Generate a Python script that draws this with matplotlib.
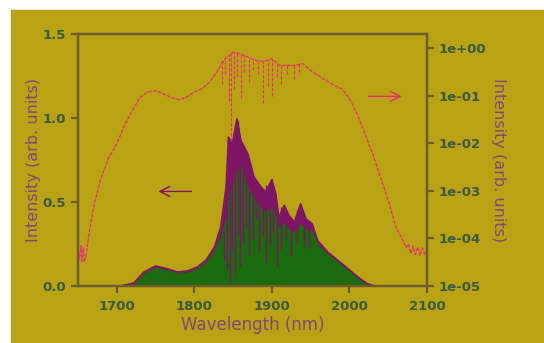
import numpy as np
import matplotlib
matplotlib.use('Agg')
import matplotlib.pyplot as plt
from matplotlib.patches import Rectangle

# 線形スペクトル (左軸)
wl_lin = [1705, 1722, 1735, 1750, 1765, 1778, 1791, 1804, 1815, 1826, 1834, 1841,
          1844, 1849, 1855, 1860, 1869, 1877, 1886, 1892, 1900, 1905, 1909, 1916,
          1922, 1929, 1937, 1944, 1952, 1959, 1972, 1985, 1998, 2011, 2023, 2032]
env_lin = [0.0, 0.018, 0.083, 0.119, 0.103, 0.083, 0.089, 0.113, 0.153, 0.232, 0.35, 0.59,
           0.886, 0.846, 0.995, 0.866, 0.787, 0.648, 0.589, 0.559, 0.634, 0.549, 0.41, 0.48,
           0.42, 0.38, 0.489, 0.40, 0.37, 0.27, 0.202, 0.153, 0.103, 0.053, 0.014, 0.0]
green_lin = [0.0, 0.012, 0.076, 0.112, 0.097, 0.077, 0.083, 0.106, 0.145, 0.215, 0.30, 0.42,
             0.55, 0.60, 0.70, 0.72, 0.60, 0.52, 0.47, 0.44, 0.48, 0.42, 0.35, 0.38,
             0.34, 0.32, 0.37, 0.34, 0.33, 0.25, 0.192, 0.145, 0.096, 0.047, 0.009, 0.0]

# 吸収線 (線形)
dip_wl = [1838, 1842, 1846, 1849, 1852, 1856, 1859, 1863, 1867, 1871, 1875, 1880,
          1884, 1888, 1893, 1897, 1902, 1907, 1912, 1918, 1925, 1933, 1941, 1948]
dip_lo = [0.15, 0.10, 0.02, 0.22, 0.08, 0.30, 0.12, 0.25, 0.35, 0.18, 0.28, 0.40,
          0.20, 0.30, 0.14, 0.25, 0.32, 0.12, 0.22, 0.28, 0.18, 0.26, 0.24, 0.22]
dip_hi = [0.33, 0.55, 0.80, 0.84, 0.92, 0.98, 0.88, 0.84, 0.78, 0.70, 0.64, 0.59,
          0.58, 0.56, 0.60, 0.62, 0.55, 0.42, 0.47, 0.43, 0.40, 0.45, 0.40, 0.36]

# 対数スペクトル (右軸)
wl_log = [1650, 1652, 1654, 1655, 1657, 1658, 1660, 1665, 1670, 1680, 1690, 1700, 1710, 1720,
          1730, 1740, 1750, 1760, 1770, 1780, 1790, 1800, 1810, 1820, 1830, 1840,
          1850, 1860, 1870, 1880, 1890, 1900, 1910, 1920, 1930, 1940, 1950, 1960,
          1970, 1980, 1990, 2000, 2010, 2020, 2030, 2040, 2050, 2060, 2070, 2073,
          2076, 2079, 2082, 2085, 2088, 2091, 2094, 2097, 2100]
exp_log = [-4.10, -4.45, -4.15, -4.48, -4.20, -4.50, -4.38, -3.83, -3.34, -2.71, -2.29, -2.01, -1.62, -1.31,
           -1.03, -0.92, -0.89, -0.96, -1.03, -1.08, -1.03, -0.92, -0.85, -0.71, -0.47, -0.22,
           -0.08, -0.12, -0.19, -0.26, -0.27, -0.22, -0.36, -0.36, -0.36, -0.32, -0.47, -0.57,
           -0.68, -0.78, -0.85, -1.06, -1.38, -1.80, -2.22, -2.71, -3.20, -3.76, -4.08, -4.20,
           -4.12, -4.32, -4.16, -4.34, -4.18, -4.36, -4.20, -4.34, -4.24]

dip_log_wl = [1836, 1840, 1845, 1847, 1851, 1855, 1860, 1864, 1870, 1876, 1882, 1888,
              1895, 1900, 1906, 1912, 1920, 1928, 1935]
dip_log_lo = [-0.75, -0.55, -1.10, -1.95, -0.85, -0.60, -1.05, -0.50, -0.70, -0.45, -0.55, -1.15,
              -0.80, -1.00, -0.60, -0.75, -0.55, -0.65, -0.50]
dip_log_hi = [-0.22, -0.18, -0.12, -0.08, -0.08, -0.09, -0.12, -0.14, -0.19, -0.22, -0.26, -0.27,
              -0.25, -0.22, -0.30, -0.36, -0.36, -0.36, -0.32]

x_ticks = [1700, 1800, 1900, 2000, 2100]
x_labels = ['1700', '1800', '1900', '2000', '2100']
y_ticks = [0.0, 0.5, 1.0, 1.5]
y_labels = ['0.0', '0.5', '1.0', '1.5']
r_exps = [0, -1, -2, -3, -4, -5]
r_labels = ['1e+00', '1e-01', '1e-02', '1e-03', '1e-04', '1e-05']

bg = '#b9a214'
frame = '#6b5c2a'
tick_c = '#3c5a3c'
lab_c = '#7d4a72'
purple = '#7e1464'
green = '#1b6a0e'
red = '#e8306c'

fig = plt.figure(figsize=(5.44, 3.43), dpi=100)
fig.patches.append(Rectangle((11 / 544, 0), 1 - 11 / 544, 1 - 10 / 343,
                             transform=fig.transFigure, color=bg, zorder=-10))

ax = fig.add_axes([78 / 544, 1 - 286 / 343, 349 / 544, 252 / 343])
ax.set_facecolor(bg)
ax.patch.set_alpha(0)

# 線形スペクトル
ax.fill_between(wl_lin, 0, env_lin, color=purple, lw=0)
ax.fill_between(wl_lin, 0, green_lin, color=green, lw=0)
ax.plot(wl_lin, env_lin, color=purple, lw=1.2)
ax.vlines(dip_wl, dip_lo, dip_hi, color=purple, lw=1.0)
ax.annotate('', xy=(1750, 0.563), xytext=(1800, 0.563),
            arrowprops=dict(arrowstyle='->', color=purple, lw=1.0, mutation_scale=18))

ax.set_xlim(1650, 2100)
ax.set_ylim(0, 1.5)
ax.set_xticks(x_ticks)
ax.set_xticklabels(x_labels)
ax.set_yticks(y_ticks)
ax.set_yticklabels(y_labels)

ax2 = ax.twinx()
log_vals = [10 ** e for e in exp_log]
ax2.plot(wl_log, log_vals, color=red, lw=0.9, ls=(0, (3, 1)))
ax2.vlines(dip_log_wl, [10 ** e for e in dip_log_lo], [10 ** e for e in dip_log_hi],
           color=red, lw=0.8, linestyles=(0, (3, 1.5)))
ax2.set_yscale('log')
ax2.set_ylim(1e-5, 2.0)
ax2.set_yticks([10 ** e for e in r_exps])
ax2.set_yticklabels(r_labels)
ax2.minorticks_off()
ax2.annotate('', xy=(2071, 10 ** -1.01), xytext=(2021, 10 ** -1.01),
             arrowprops=dict(arrowstyle='->', color=red, lw=1.0, mutation_scale=18))

for a in (ax, ax2):
    for s in a.spines.values():
        s.set_color(frame)
        s.set_linewidth(1.6)
    a.tick_params(colors=frame, length=5, width=1.6, labelsize=9.5, labelcolor=tick_c)
    for t in a.get_xticklabels() + a.get_yticklabels():
        t.set_fontweight('bold')
ax.tick_params(axis='x', pad=5)

ax.set_xlabel('Wavelength (nm)', color=lab_c, fontsize=12, labelpad=2)
ax.set_ylabel('Intensity (arb. units)', color=lab_c, fontsize=11.5, labelpad=1)
ax2.set_ylabel('Intensity (arb. units)', color=lab_c, fontsize=11.5, rotation=270, labelpad=14)

fig.savefig('out.png', dpi=100)
